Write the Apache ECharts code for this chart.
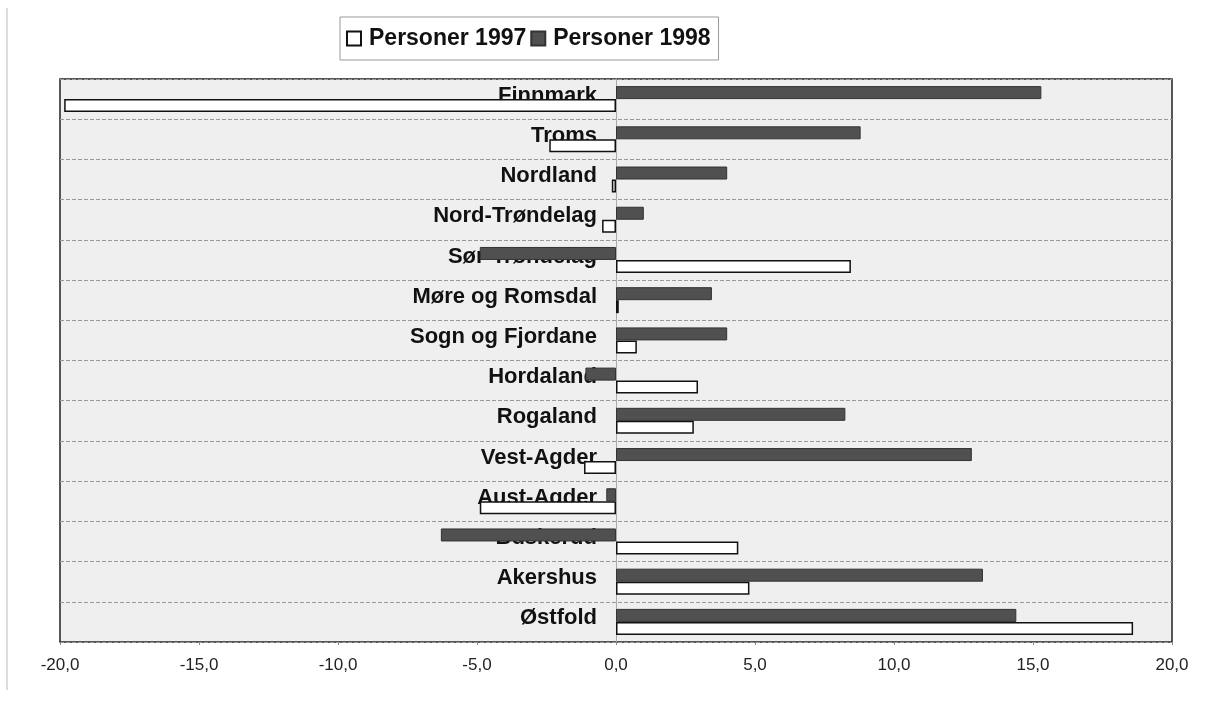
<!DOCTYPE html>
<html>
<head>
<meta charset="utf-8">
<script src="https://cdn.jsdelivr.net/npm/echarts@6/dist/echarts.min.js"></script>
<style>
html,body{margin:0;padding:0;background:#fff;}
#c{width:1210px;height:709px;}
</style>
</head>
<body>
<div id="c"></div>
<script>
var categories = ['Finnmark','Troms','Nordland','Nord-Trøndelag','Sør-Trøndelag','Møre og Romsdal','Sogn og Fjordane','Hordaland','Rogaland','Vest-Agder','Aust-Agder','Buskerud','Akershus','Østfold'];
var personer1997 = [-19.85, -2.4, -0.15, -0.5, 8.45, 0.1, 0.75, 2.95, 2.8, -1.15, -4.9, 4.4, 4.8, 18.6];
var personer1998 = [15.3, 8.8, 4.0, 1.0, -4.9, 3.45, 4.0, -1.1, 8.25, 12.8, -0.35, -6.3, 13.2, 14.4];
var xTicks = {min: -20, max: 20, interval: 5};

var gridLeft = 60, gridRight = 38;
var chart = echarts.init(document.getElementById('c'), null, {renderer: 'canvas'});
var font = '"Liberation Sans", Arial, sans-serif';
var option = {
  animation: false,
  backgroundColor: '#fff',
  textStyle: {fontFamily: font},
  legend: {
    left: 340, top: 17,
    data: ['Personer 1997', 'Personer 1998'],
    icon: 'rect', itemWidth: 14, itemHeight: 14, itemGap: 4,
    borderColor: '#999', borderWidth: 1, padding: [10, 8, 10, 6],
    textStyle: {fontFamily: font, fontWeight: 'bold', fontSize: 23, color: '#111', padding: [0, 0, 0, 3]}
  },
  grid: {
    left: gridLeft, right: gridRight, top: 79, bottom: 67,
    outerBoundsMode: 'none', containLabel: false,
    show: true, backgroundColor: '#efefef', borderColor: '#222', borderWidth: 1.5
  },
  xAxis: {
    type: 'value', min: xTicks.min, max: xTicks.max, interval: xTicks.interval,
    axisLine: {show: false},
    axisTick: {show: true, length: 3, lineStyle: {color: '#888'}},
    splitLine: {show: false},
    axisLabel: {
      margin: 15, fontSize: 17, color: '#222', fontFamily: font,
      formatter: function (v) { return v.toFixed(1).replace('.', ','); }
    }
  },
  yAxis: {
    type: 'category', data: categories, inverse: true,
    offset: 0,
    axisLine: {show: true, onZero: false, lineStyle: {color: '#aaa', width: 1}},
    axisTick: {show: false},
    splitLine: {show: true, lineStyle: {color: '#999', type: 'dashed', width: 1}},
    axisLabel: {
      margin: 19,
      formatter: function (v) { return '{a|' + v + '}'; },
      rich: {a: {fontSize: 22, fontWeight: 'bold', color: '#111', fontFamily: font, padding: [0, 0, 7, 0]}}
    }
  },
  series: [
    {
      name: 'Personer 1998', type: 'bar', data: personer1998,
      barWidth: 13, barGap: '0%',
      itemStyle: {color: '#505050', borderColor: '#333', borderWidth: 1}
    },
    {
      name: 'Personer 1997', type: 'bar', data: personer1997,
      barWidth: 13, barGap: '0%',
      itemStyle: {color: '#ffffff', borderColor: '#111', borderWidth: 1.5}
    }
  ],
  graphic: [
    {type: 'line', shape: {x1: 7, y1: 8, x2: 7, y2: 690}, style: {stroke: '#bbb', lineWidth: 1}}
  ]
};
chart.setOption(option);
var zeroX = chart.convertToPixel({xAxisIndex: 0}, 0);
chart.setOption({yAxis: {offset: -(zeroX - gridLeft)}});
</script>
</body>
</html>
